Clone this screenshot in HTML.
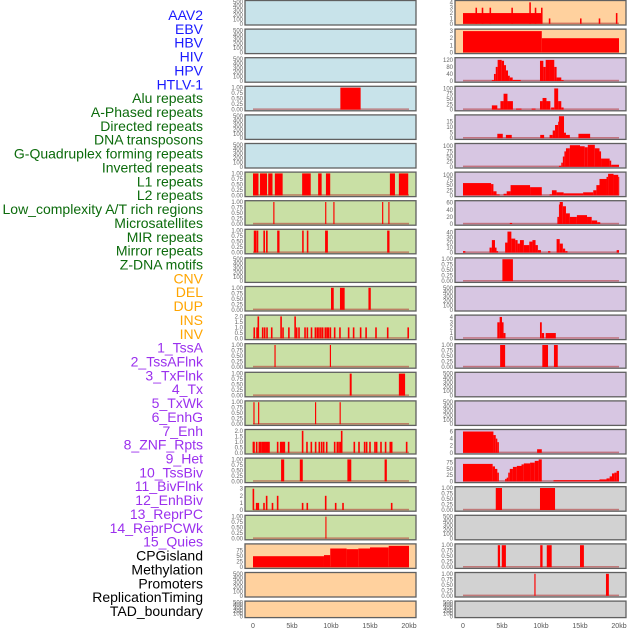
<!DOCTYPE html>
<html><head><meta charset="utf-8"><style>
html,body{margin:0;padding:0;background:#fff;}
svg{display:block;font-family:"Liberation Sans",sans-serif;}
</style></head><body>
<svg id="chart" width="630" height="630" viewBox="0 0 630 630" xmlns="http://www.w3.org/2000/svg"></svg>
<script>
const trackLabels = ["AAV2","EBV","HBV","HIV","HPV","HTLV-1","Alu repeats","A-Phased repeats","Directed repeats","DNA transposons","G-Quadruplex forming repeats","Inverted repeats","L1 repeats","L2 repeats","Low_complexity A/T rich regions","Microsatellites","MIR repeats","Mirror repeats","Z-DNA motifs","CNV","DEL","DUP","INS","INV","1_TssA","2_TssAFlnk","3_TxFlnk","4_Tx","5_TxWk","6_EnhG","7_Enh","8_ZNF_Rpts","9_Het","10_TssBiv","11_BivFlnk","12_EnhBiv","13_ReprPC","14_ReprPCWk","15_Quies","CPGisland","Methylation","Promoters","ReplicationTiming","TAD_boundary"];
const labelGroups = ["v","v","v","v","v","v","r","r","r","r","r","r","r","r","r","r","r","r","r","s","s","s","s","s","c","c","c","c","c","c","c","c","c","c","c","c","c","c","c","o","o","o","o","o"];
const xTicks = [0,5,10,15,20];
const xTickLabels = ["0","5kb","10kb","15kb","20kb"];

// segments [startKb, endKb, value]
const c1p3 = [[11.2,13.8,1]];
const c1p6 = [[0,0.7,1],[0.9,1.8,1],[1.95,2.5,1],[2.8,3.8,1],[6.3,7.4,1],[8.35,8.8,1],[9.35,9.9,1],[17.55,18.2,1],[18.7,19.9,1]];
const c1p7 = [[2.6,2.75,1],[9.25,9.4,1],[10.3,10.45,1],[16.55,16.7,1],[17.35,17.5,1]];
const c1p8 = [[0.1,0.4,1],[0.43,0.68,1],[1.33,1.54,1],[1.67,1.88,1],[3.1,3.4,1],[6.3,6.5,1],[6.9,7.1,1],[9.24,9.6,1],[17.2,17.5,1]];
const c1p10 = [[10.0,10.35,1],[11.15,11.75,1],[14.8,15.1,1]];
const c1p11Pos = [0.16,0.52,0.68,1.24,1.5,1.8,2.4,3.6,3.85,4.6,5.4,5.6,5.9,6.67,6.97,7.5,8.0,8.25,8.46,8.7,8.93,9.27,9.49,9.66,9.92,10.47,11.15,12.26,12.9,13.8,14.5,15.77,17.27,19.9];
const c1p11Val = [1,1,2,1,1,1,1,2,1,1,2,1,1,1,1,1,1,1,1,1,1,1,1,1,1,1,1,1,1,1,1,1,1,1];
const c1p12 = [[2.75,2.9,1],[9.85,10.0,1]];
const c1p13 = [[12.4,12.65,1],[18.7,19.5,1]];
const c1p14 = [[0.05,0.2,1],[0.65,0.8,1],[7.95,8.1,1],[11.1,11.25,1]];
const c1p15Pos = [0.05,0.13,0.47,0.81,0.98,1.2,1.37,1.54,1.71,1.88,2.05,3.16,3.55,3.72,3.89,4.02,4.57,6.36,6.92,7.48,8.03,8.5,8.8,9.06,9.45,10.47,10.81,11.03,11.24,11.37,12.99,13.59,14.31,14.57,15.0,15.64,15.85,16.41,17.0,17.6,17.78,19.7];
const c1p15Val = [1,1,1,1,1,1,1,1,1,1,1,1,1,1,1,1,1,2,1,1,1,1,1,1,1,1,1,1,1,2,1,1,1,1,1,1,1,1,1,1,1,1];
const c1p16 = [[3.6,4.0,1],[6.0,6.38,1],[12.1,12.6,1],[16.87,17.16,1]];
const c1p17Pos = [0.05,0.47,0.68,1.41,1.75,2.5,3.16,6.36,6.96,9.32,10.6,11.54,17.78];
const c1p17Val = [3,1,1,1,2,1,2,1,1,2,1,1,1];
const c1p18 = [[9.28,9.42,1]];
const c1p19 = [[0,9.1,50],[9.1,9.9,55],[9.9,12,85],[12,13.5,82],[13.5,15,85],[15,17.4,90],[17.4,20,97]];

const c2p0 = [[0,10.1,2],[1.6,1.8,3],[2.4,2.6,3],[3.4,3.6,3],[6.2,6.4,3],[8.5,8.7,4],[9.2,9.4,3],[10.0,10.2,3],[11.0,11.2,1],[15.0,15.2,1],[17.4,17.6,1],[19.6,19.8,2]];
const c2p1 = [[0,10.1,3],[10.1,20,2]];
const c2p2 = [[3.7,3.97,5],[3.97,4.2,40],[4.2,4.44,80],[4.44,4.96,120],[4.96,5.26,115],[5.26,5.51,90],[5.51,5.77,60],[5.77,6.0,30],[6.0,6.37,20],[6.37,7.4,6],[9.87,10.3,115],[10.3,10.6,80],[10.6,11.15,120],[11.15,11.7,120],[11.7,12.0,80],[12.0,12.6,20],[12.6,12.9,5]];
const c2p3 = [[3.7,4.4,20],[4.4,4.8,5],[4.8,5.2,40],[5.2,5.7,75],[5.7,6.4,40],[6.8,7.5,5],[8.8,9.3,5],[9.87,10.2,40],[10.2,10.7,55],[10.7,11.2,40],[11.3,11.7,10],[11.7,12.2,100],[12.2,12.6,40],[12.6,12.9,10]];
const c2p4 = [[4.4,5.1,4],[5.5,6.25,3],[9.9,10.4,3],[11.1,11.5,3],[11.5,11.8,7],[11.8,12.2,12],[12.2,12.3,15],[12.3,12.95,20],[12.95,13.2,5],[13.2,13.7,3],[14.8,16.3,4]];
const c2p5 = [[12.3,12.6,5],[12.6,12.8,20],[12.8,13.0,50],[13.0,13.2,75],[13.2,13.7,90],[13.7,15.0,105],[15.0,15.6,100],[15.6,16.0,95],[16.0,16.9,108],[16.9,17.5,90],[17.5,17.7,75],[17.7,18.8,40],[18.8,19.0,30],[19.0,20,10]];
const c2p6 = [[0,3.6,60],[3.6,3.9,55],[3.9,4.3,20],[4.3,4.7,5],[5.2,5.6,8],[5.6,6.1,20],[6.1,8.6,50],[8.6,10.1,40],[11.1,11.4,5],[11.4,12.0,25],[12.0,12.9,15],[12.9,15.4,10],[15.4,16.7,15],[16.7,17.1,25],[17.1,17.5,50],[17.5,18.4,80],[18.4,18.6,90],[18.6,19.3,105],[19.3,19.9,100],[19.9,20,90]];
const c2p7 = [[6.0,6.3,3],[12.1,12.3,20],[12.3,12.4,55],[12.4,12.8,62],[12.8,13.2,50],[13.2,13.7,30],[13.7,14.6,20],[14.6,15.9,25],[15.9,16.5,20],[16.5,17.2,10],[17.2,17.6,5]];
const c2p8 = [[0.0,0.3,3],[3.4,3.7,10],[3.7,4.1,25],[4.1,4.3,10],[4.3,4.5,3],[5.4,5.7,20],[5.7,6.2,42],[6.2,6.7,28],[6.7,7.0,25],[7.0,7.3,18],[7.3,7.8,25],[7.8,8.5,15],[8.5,8.9,22],[8.9,9.3,25],[9.3,9.6,15],[9.6,10.0,5],[10.9,11.2,3],[12.0,12.4,27],[12.4,12.8,18],[12.8,13.1,8],[13.1,13.4,3],[19.7,20,5]];
const c2p9 = [[5.05,6.4,1]];
const c2p11 = [[4.4,4.7,3],[4.7,5.0,4],[5.0,5.2,3],[5.2,5.45,1],[9.87,10.1,3],[10.1,10.4,1],[10.6,11.9,1]];
const c2p12 = [[4.76,5.4,1],[10.17,10.9,1],[11.66,12.15,1]];
const c2p15 = [[0,3.9,6],[3.9,4.2,5],[4.2,4.4,4],[4.4,4.6,3],[9.5,10.1,1]];
const c2p16 = [[0,3.8,70],[3.8,4.1,60],[4.1,4.4,50],[4.4,4.6,35],[5.4,5.6,10],[5.6,5.8,15],[5.8,6.0,35],[6.0,6.4,50],[6.4,6.9,58],[6.9,7.5,62],[7.5,7.8,68],[7.8,8.6,72],[8.6,9.2,75],[9.2,9.7,82],[9.7,10.1,88],[11.6,17.5,5],[17.5,18.4,8],[18.4,18.8,12],[18.8,19.1,20],[19.1,19.4,32],[19.4,19.7,35],[19.7,20,42]];
const c2p17 = [[4.2,5.0,1],[9.87,11.8,1]];
const c2p19 = [[4.46,4.75,1],[4.97,5.5,1],[9.9,10.2,1],[10.74,11.37,1],[15.0,15.5,1]];
const c2p20 = [[9.15,9.3,1],[18.33,18.7,1]];

const t500=[0,100,200,300,400,500], t1=[0,0.25,0.5,0.75,1], t2=[0,0.5,1,1.5,2];
const col1Ymax = [500,500,500,1,500,500,1,1,1,500,1,2,1,1,1,2,1,3.1,1,100,500,500];
const col2Ymax = [4.1,3.1,125,104,20,107,107,62,44,1,500,4.1,1,500,500,6.2,88,1,500,1,1,500];
const col1Ticks = [t500,t500,t500,t1,t500,t500,t1,t1,t1,t500,t1,t2,t1,t1,t1,t2,t1,[0,1,2,3],t1,[0,25,50,75],t500,t500];
const col2Ticks = [[0,1,2,3,4],[0,1,2,3],[0,40,80,120],[0,25,50,75,100],[0,5,10,15],[0,25,50,75,100],[0,25,50,75,100],[0,20,40,60],[0,10,20,30,40],t1,t500,[0,1,2,3,4],t1,t500,t500,[0,2,4,6],[0,25,50,75],t1,t500,t1,t1,t500];
const col1Segs = [null,null,null,c1p3,null,null,c1p6,c1p7,c1p8,null,c1p10,null,c1p12,c1p13,c1p14,null,c1p16,null,c1p18,c1p19,null,null];
const col1Spikes = {11:[c1p11Pos,c1p11Val],15:[c1p15Pos,c1p15Val],17:[c1p17Pos,c1p17Val]};
const col2Segs = [c2p0,c2p1,c2p2,c2p3,c2p4,c2p5,c2p6,c2p7,c2p8,c2p9,null,c2p11,c2p12,null,null,c2p15,c2p16,c2p17,null,c2p19,c2p20,null];
const col1Bg = ["#c8e3ea","#c8e3ea","#c8e3ea","#c8e3ea","#c8e3ea","#c8e3ea","#c9e0a5","#c9e0a5","#c9e0a5","#c9e0a5","#c9e0a5","#c9e0a5","#c9e0a5","#c9e0a5","#c9e0a5","#c9e0a5","#c9e0a5","#c9e0a5","#c9e0a5","#ffd19e","#ffd19e","#ffd19e"];
const col2Bg = ["#ffd19e","#ffd19e"].concat(Array(15).fill("#d7c6e2")).concat(Array(5).fill("#d2d2d2"));

const NS="http://www.w3.org/2000/svg";
const svg=document.getElementById('chart');
function mk(tag,attrs,parent){const e=document.createElementNS(NS,tag);for(const k in attrs)e.setAttribute(k,attrs[k]);(parent||svg).appendChild(e);return e;}
const groupColor={v:"#1a1aff",r:"#0c6b0c",s:"#ffa500",c:"#9b30ee",o:"#000"};

trackLabels.forEach((t,i)=>{
  const e=mk('text',{x:203,y:15+i*13.86+5,'text-anchor':'end','font-size':14,fill:groupColor[labelGroups[i]]});
  e.textContent=t;
  
  
});

const colLeft=[245,455], colW=171, kb0=[253,463], kbSpan=156;
function rowTop(r){return 0.5+r*28.6;}
function rowH(r){return r===21?16.5:24.5;}
function fmt(v,ticks){const mx=ticks[ticks.length-1];if(mx===1)return v.toFixed(2);if(mx===2)return v.toFixed(1);return String(v);}

function drawPanel(c,r,bg,ymax,ticks,segs,spikes){
  const g=mk('g',{});
  
  
  const top=rowTop(r), h=rowH(r), bot=top+h-1.2, ph=h-2.5;
  const X=v=>kb0[c]+v/20*kbSpan;
  const Y=v=>bot-Math.min(v,ymax)/ymax*ph;
  mk('rect',{x:colLeft[c],y:top,width:colW,height:h,fill:bg},g);
  ticks.forEach(t=>{
    const e=mk('text',{x:colLeft[c]-2,y:Y(t)+2,'text-anchor':'end','font-size':6,fill:'#666'},g);
    e.textContent=fmt(t,ticks);
    
    
  });
  if(segs||spikes) mk('rect',{x:X(0),y:bot-1.2,width:X(20)-X(0),height:1.5,fill:'#b03030',opacity:0.55},g);
  if(segs) segs.forEach(s=>{
    const b=mk('rect',{x:X(s[0]),y:Y(s[2]),width:Math.max(1,X(s[1])-X(s[0])),height:bot-Y(s[2]),fill:'#ff0000'},g);
    
    
  });
  if(spikes) spikes[0].forEach((p,i)=>{
    const v=spikes[1][i];
    const b=mk('rect',{x:X(p)-0.8,y:Y(v),width:1.6,height:bot-Y(v),fill:'#ff0000'},g);
    
    
  });
  mk('rect',{x:colLeft[c],y:top,width:colW,height:h,fill:'none',stroke:'#606060','stroke-width':1.3},g);
}
for(let r=0;r<22;r++){
  drawPanel(0,r,col1Bg[r],col1Ymax[r],col1Ticks[r],col1Segs[r],col1Spikes[r]);
  drawPanel(1,r,col2Bg[r],col2Ymax[r],col2Ticks[r],col2Segs[r],null);
}
[0,1].forEach(c=>{
  xTicks.forEach((t,i)=>{
    const e=mk('text',{x:kb0[c]+t/20*kbSpan,y:628,'text-anchor':'middle','font-size':7,fill:'#555'});
    e.textContent=xTickLabels[i];
    
    
  });
});
</script>
</body></html>
